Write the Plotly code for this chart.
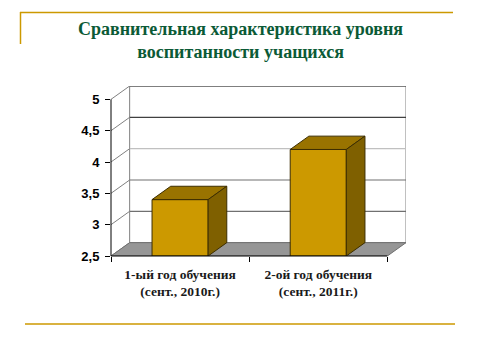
import plotly.graph_objects as go

categories = ["1-ый год обучения<br>(сент., 2010г.)", "2-ой год обучения<br>(сент., 2011г.)"]
values = [3.4, 4.2]
y_ticks = [2.5, 3, 3.5, 4, 4.5, 5]
y_ticktext = ["2,5", "3", "3,5", "4", "4,5", "5"]
title_text = "Сравнительная характеристика уровня<br>воспитанности учащихся"

# geometry (styles/positions); page body has an 8px default margin
OFF = 8
W_FIG, H_FIG = 480, 360
L, T = 111 - OFF, 86 - OFF
PW, PH = 295, 170
R = W_FIG - L - PW
B = H_FIG - T - PH
YMIN, YMAX = 2.5, 5.0
DX, DY = 0.135, 0.213  # 3D depth offset in data units
XMIN, XMAX = -0.5, len(values) - 0.5 + DX
BAR_W = 0.406

FRONT = "#CC9900"
TOP = "#997300"
SIDE = "#7F6000"
EDGE = "#3d2e00"
FLOOR = "#969696"
GOLD = "#CC9900"


def px(x):  # screen pixel -> paper x
    return (x - OFF - L) / PW


def py(y):  # screen pixel -> paper y
    return (T + PH - (y - OFF)) / PH


xs = list(range(len(values)))
fig = go.Figure()

# front bar faces
fig.add_trace(go.Bar(x=xs, y=[v - YMIN for v in values], base=YMIN, width=BAR_W,
                     marker=dict(color=FRONT, line=dict(color=EDGE, width=1)),
                     hoverinfo="skip", showlegend=False))

# top and side faces
for x, v in zip(xs, values):
    x0, x1 = x - BAR_W / 2, x + BAR_W / 2
    fig.add_trace(go.Scatter(x=[x0, x1, x1 + DX, x0 + DX, x0], y=[v, v, v + DY, v + DY, v],
                             fill="toself", fillcolor=TOP, mode="lines",
                             line=dict(color=EDGE, width=1), hoverinfo="skip", showlegend=False))
    fig.add_trace(go.Scatter(x=[x1, x1, x1 + DX, x1 + DX, x1], y=[YMIN, v, v + DY, YMIN + DY, YMIN],
                             fill="toself", fillcolor=SIDE, mode="lines",
                             line=dict(color=EDGE, width=1), hoverinfo="skip", showlegend=False))

# overlay axis for category boundary ticks
fig.add_trace(go.Scatter(x=[XMIN], y=[YMIN], xaxis="x2", mode="markers",
                         marker=dict(opacity=0), hoverinfo="skip", showlegend=False))

shapes = []
xb0, xb1 = XMIN + DX, XMAX
# back wall
shapes.append(dict(type="rect", xref="x", yref="y", x0=xb0, x1=xb1, y0=YMIN + DY, y1=YMAX + DY,
                   fillcolor="white", line=dict(color="#808080", width=1), layer="below"))
# back wall gridlines
grid_colors = {3: "#707070", 3.5: "#707070", 4: "#C0C0C0", 4.5: "#404040"}
for t in y_ticks[1:-1]:
    shapes.append(dict(type="line", xref="x", yref="y", x0=xb0, x1=xb1, y0=t + DY, y1=t + DY,
                       line=dict(color=grid_colors.get(t, "#707070"), width=1.2), layer="below"))
shapes.append(dict(type="line", xref="x", yref="y", x0=xb0, x1=xb1, y0=YMAX + DY, y1=YMAX + DY,
                   line=dict(color="#404040", width=1.2), layer="below"))
# left wall diagonals
for t in y_ticks:
    shapes.append(dict(type="line", xref="x", yref="y", x0=XMIN, x1=XMIN + DX, y0=t, y1=t + DY,
                       line=dict(color="#808080", width=1), layer="below"))
# floor
shapes.append(dict(type="path", xref="x", yref="y",
                   path=f"M {XMIN},{YMIN} L {len(values)-0.5},{YMIN} L {XMAX},{YMIN+DY} L {XMIN+DX},{YMIN+DY} Z",
                   fillcolor=FLOOR, line=dict(color="#707070", width=1), layer="below"))
# y axis line
shapes.append(dict(type="line", xref="paper", yref="y", x0=0, x1=0, y0=YMIN, y1=YMAX,
                   line=dict(color="black", width=1)))
# x axis line
shapes.append(dict(type="line", xref="x", yref="paper", x0=XMIN, x1=len(values) - 0.5, y0=0, y1=0,
                   line=dict(color="black", width=1)))
# decorative gold frame lines
shapes.append(dict(type="line", xref="paper", yref="paper", x0=px(20), x1=px(453), y0=py(12.5), y1=py(12.5),
                   line=dict(color=GOLD, width=1.5)))
shapes.append(dict(type="line", xref="paper", yref="paper", x0=px(20.5), x1=px(20.5), y0=py(12), y1=py(44),
                   line=dict(color=GOLD, width=1.5)))
shapes.append(dict(type="line", xref="paper", yref="paper", x0=px(25), x1=px(455), y0=py(324), y1=py(324),
                   line=dict(color=GOLD, width=1.5)))

fig.update_layout(
    width=W_FIG, height=H_FIG,
    margin=dict(l=L, r=R, t=T, b=B, autoexpand=False),
    paper_bgcolor="white", plot_bgcolor="rgba(0,0,0,0)",
    shapes=shapes,
    barmode="overlay",
    xaxis=dict(range=[XMIN, XMAX], tickvals=xs, ticktext=[f"<b>{c}</b>" for c in categories],
               showgrid=False, zeroline=False, showline=False, ticks="", ticklabelstandoff=8,
               tickfont=dict(family="Liberation Serif", size=13.5, color="#1a1a1a"), fixedrange=True),
    xaxis2=dict(range=[XMIN, XMAX], overlaying="x", side="bottom", anchor="y",
                tickvals=[i - 0.5 for i in range(len(values) + 1)], ticktext=["" for _ in range(len(values) + 1)],
                ticks="outside", ticklen=5, tickcolor="black", showgrid=False, zeroline=False, showline=False),
    yaxis=dict(range=[YMIN, YMAX + DY], tickvals=y_ticks, ticktext=y_ticktext,
               ticks="outside", ticklen=5, tickcolor="black", showgrid=False, zeroline=False, showline=False,
               ticklabelstandoff=3,
               tickfont=dict(family="Liberation Sans", size=13, color="black", weight="bold")),
    annotations=[dict(text=f"<b>{title_text}</b>", xref="paper", yref="paper", x=px(240), y=py(40),
                      xanchor="center", yanchor="middle", showarrow=False,
                      font=dict(family="Liberation Serif", size=18, color="#0B5A36"))],
)

fig.write_html("out.html")
